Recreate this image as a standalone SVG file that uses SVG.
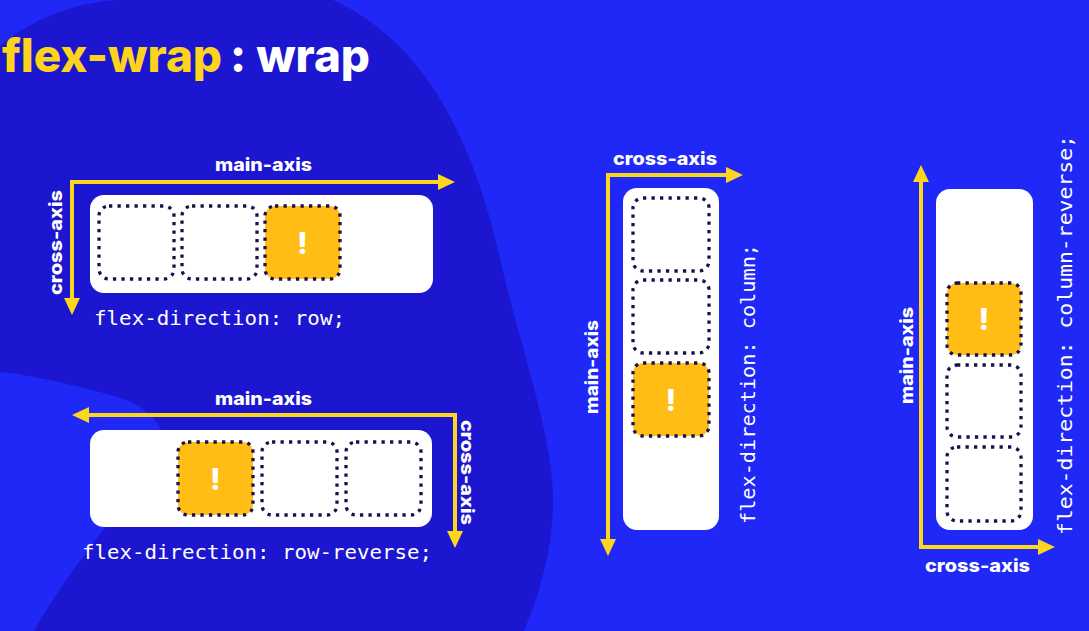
<svg xmlns="http://www.w3.org/2000/svg" width="1089" height="631" viewBox="0 0 1089 631">
  <defs>
    <style>
      .bg { fill: #1f28f6; }
      .blob { fill: #1c16d0; }
      .panel { fill: #ffffff; }
      .item { fill: #ffffff; stroke: #17124f; stroke-width: 3.3; stroke-dasharray: 3.3 5.2; }
      .hit { fill: #ffbd15; stroke: #17124f; stroke-width: 3.3; stroke-dasharray: 3.3 5.2; }
      .bang { fill: #ffffff; font-family: "Inter", "Liberation Sans", sans-serif; font-weight: 800; font-size: 30px; text-anchor: middle; }
      .axis { fill: none; stroke: #fdd61e; stroke-width: 4; stroke-linejoin: miter; marker-start: url(#arrow); marker-end: url(#arrow); }
      .lbl { fill: #ffffff; font-family: "Inter", "Liberation Sans", sans-serif; font-weight: 800; font-size: 18px; }
      .code { fill: #ffffff; font-family: "DejaVu Sans Mono", "Liberation Mono", monospace; font-size: 19px; }
      .title { font-family: "Inter", "Liberation Sans", sans-serif; font-weight: 800; font-size: 46px; }
    </style>
    <marker id="arrow" viewBox="0 0 17 16" markerWidth="17" markerHeight="16" refX="0" refY="8" orient="auto-start-reverse" markerUnits="userSpaceOnUse">
      <path d="M0,0 L17,8 L0,16 Z" fill="#fdd61e"/>
    </marker>
  </defs>

  <g id="background">
    <rect class="bg" x="0" y="0" width="1089" height="631"/>
    <path class="blob" d="M0,46 C30,20 75,2 118,0 L333,0 C420,40 470,130 498,250 C520,350 556,440 553,510 C550,570 532,610 524,631 L34,631 C80,550 140,490 166,445 C160,415 140,402 100,392 C60,382 25,374 0,372 Z"/>
  </g>

  <g id="title">
    <text class="title" x="2" y="72" fill="#fdd41c" textLength="220" lengthAdjust="spacingAndGlyphs">flex-wrap</text>
    <text class="title" x="230" y="72" fill="#ffffff" textLength="140" lengthAdjust="spacingAndGlyphs">: wrap</text>
  </g>

  <g id="connectors">
    <path class="axis" d="M72,298 L72,182 L438,182"/>
    <path class="axis" d="M89,415 L455,415 L455,531"/>
    <path class="axis" d="M608,539 L608,175 L726,175"/>
    <path class="axis" d="M921,182 L921,547 L1038,547"/>
  </g>

  <g id="row">
    <rect class="panel" x="90" y="195" width="343" height="98" rx="14"/>
    <rect class="item" x="99" y="206" width="75" height="73" rx="10"/>
    <rect class="item" x="182" y="206" width="75" height="73" rx="10"/>
    <rect class="hit" x="265" y="206" width="75" height="73" rx="10"/>
    <text class="bang" x="302.5" y="254">!</text>
    <text class="lbl" x="215" y="171" textLength="97" lengthAdjust="spacingAndGlyphs">main-axis</text>
    <text class="lbl" transform="translate(62,295) rotate(-90)" textLength="105" lengthAdjust="spacingAndGlyphs">cross-axis</text>
    <text class="code" x="94" y="325" textLength="251" lengthAdjust="spacingAndGlyphs">flex-direction: row;</text>
  </g>

  <g id="row-reverse">
    <rect class="panel" x="90" y="430" width="342" height="97" rx="14"/>
    <rect class="hit" x="178" y="442" width="75" height="73" rx="10"/>
    <rect class="item" x="262" y="442" width="75" height="73" rx="10"/>
    <rect class="item" x="346" y="442" width="75" height="73" rx="10"/>
    <text class="bang" x="215.5" y="490">!</text>
    <text class="lbl" x="215" y="405" textLength="97" lengthAdjust="spacingAndGlyphs">main-axis</text>
    <text class="lbl" transform="translate(461,420) rotate(90)" textLength="105" lengthAdjust="spacingAndGlyphs">cross-axis</text>
    <text class="code" x="82" y="559" textLength="350" lengthAdjust="spacingAndGlyphs">flex-direction: row-reverse;</text>
  </g>

  <g id="column">
    <rect class="panel" x="623" y="188" width="96" height="342" rx="14"/>
    <rect class="item" x="633" y="198" width="76" height="73" rx="10"/>
    <rect class="item" x="633" y="280" width="76" height="73" rx="10"/>
    <rect class="hit" x="633" y="363" width="76" height="73" rx="10"/>
    <text class="bang" x="671" y="411">!</text>
    <text class="lbl" x="613" y="165" textLength="104" lengthAdjust="spacingAndGlyphs">cross-axis</text>
    <text class="lbl" transform="translate(598,414) rotate(-90)" textLength="94" lengthAdjust="spacingAndGlyphs">main-axis</text>
    <text class="code" transform="translate(755,524) rotate(-90)" textLength="280" lengthAdjust="spacingAndGlyphs">flex-direction: column;</text>
  </g>

  <g id="column-reverse">
    <rect class="panel" x="936" y="189" width="97" height="341" rx="14"/>
    <rect class="hit" x="947" y="283" width="74" height="72" rx="10"/>
    <rect class="item" x="947" y="365" width="74" height="72" rx="10"/>
    <rect class="item" x="947" y="447" width="74" height="74" rx="10"/>
    <text class="bang" x="984" y="330">!</text>
    <text class="lbl" x="925" y="572" textLength="105" lengthAdjust="spacingAndGlyphs">cross-axis</text>
    <text class="lbl" transform="translate(913,404) rotate(-90)" textLength="97" lengthAdjust="spacingAndGlyphs">main-axis</text>
    <text class="code" transform="translate(1072,535) rotate(-90)" textLength="400" lengthAdjust="spacingAndGlyphs">flex-direction: column-reverse;</text>
  </g>
</svg>
